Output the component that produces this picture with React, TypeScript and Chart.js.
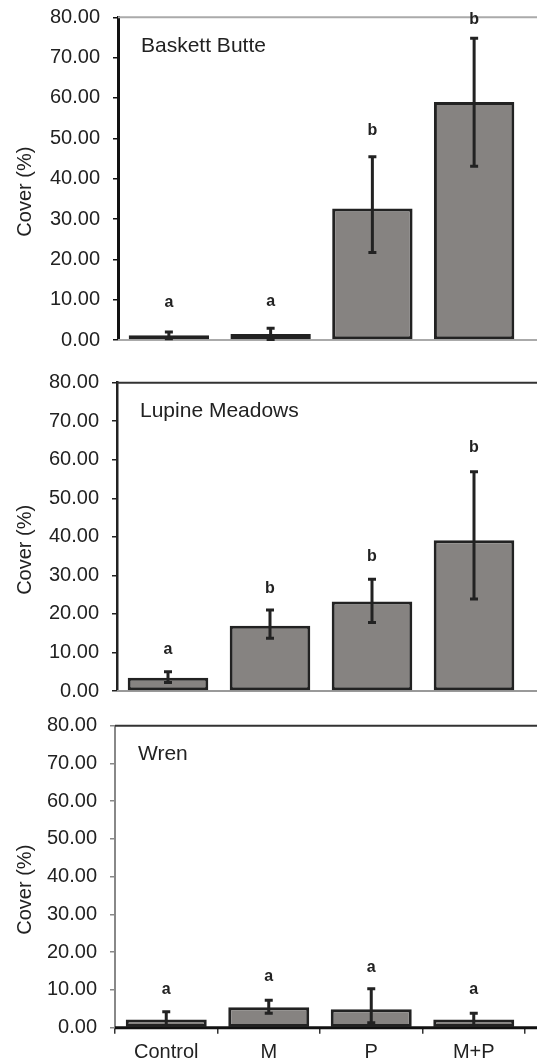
import React, { useEffect, useRef } from "react";
import { Chart, registerables } from "chart.js";

Chart.register(...registerables);

const categories = ["Control", "M", "P", "M+P"];
const yTicks = [0, 10, 20, 30, 40, 50, 60, 70, 80];

const basketMeans = [1.2, 1.5, 32.6, 59.0];
const basketLow = [0.3, 0.1, 21.7, 43.1];
const basketHigh = [2.0, 2.9, 45.4, 74.8];
const basketLetters = ["a", "a", "b", "b"];
const basketLetterY = [9.2, 9.5, 52.0, 79.4];

const lupineMeans = [3.45, 16.9, 23.2, 39.1];
const lupineLow = [2.2, 13.7, 17.8, 23.9];
const lupineHigh = [5.0, 21.0, 29.0, 56.9];
const lupineLetters = ["a", "b", "b", "b"];
const lupineLetterY = [10.8, 26.6, 34.8, 63.2];

const wrenMeans = [2.2, 5.4, 4.9, 2.2];
const wrenLow = [0.5, 3.8, 1.3, 0.6];
const wrenHigh = [4.2, 7.3, 10.3, 3.8];
const wrenLetters = ["a", "a", "a", "a"];
const wrenLetterY = [10.0, 13.5, 15.9, 10.0];

const FONT = "'Liberation Sans', Arial, sans-serif";
const TEXT = "#222";

type PanelCfg = {
  name: string;
  means: number[];
  low: number[];
  high: number[];
  letters: string[];
  letterY: number[];
  top: number;
  height: number;
  padTop: number;
  xHeight: number;
  yWidth: number;
  leftColor: string;
  leftWidth: number;
  topColor: string;
  bottomColor: string;
  bottomWidth: number;
  showX: boolean;
};

const panels: PanelCfg[] = [
  {
    name: "Baskett Butte", means: basketMeans, low: basketLow, high: basketHigh,
    letters: basketLetters, letterY: basketLetterY,
    top: -20, height: 400, padTop: 37.3, xHeight: 40, yWidth: 118,
    leftColor: "#111", leftWidth: 3, topColor: "#aaa", bottomColor: "#aaa", bottomWidth: 2, showX: false,
  },
  {
    name: "Lupine Meadows", means: lupineMeans, low: lupineLow, high: lupineHigh,
    letters: lupineLetters, letterY: lupineLetterY,
    top: 340, height: 390, padTop: 42.7, xHeight: 39, yWidth: 117,
    leftColor: "#222", leftWidth: 2.5, topColor: "#333", bottomColor: "#999", bottomWidth: 2, showX: false,
  },
  {
    name: "Wren", means: wrenMeans, low: wrenLow, high: wrenHigh,
    letters: wrenLetters, letterY: wrenLetterY,
    top: 700, height: 364, padTop: 25.7, xHeight: 36.3, yWidth: 115,
    leftColor: "#888", leftWidth: 2, topColor: "#333", bottomColor: "#111", bottomWidth: 3, showX: true,
  },
];

function Panel({ cfg }: { cfg: PanelCfg }) {
  const ref = useRef<HTMLCanvasElement | null>(null);
  useEffect(() => {
    if (!ref.current) return;
    const decor = {
      id: "decor",
      beforeDatasetsDraw(chart: any) {
        const { ctx, chartArea } = chart;
        const w = chart.width;
        ctx.save();
        ctx.lineCap = "butt";
        ctx.strokeStyle = cfg.topColor;
        ctx.lineWidth = 2;
        ctx.beginPath();
        ctx.moveTo(chartArea.left, chartArea.top);
        ctx.lineTo(w, chartArea.top);
        ctx.stroke();
        ctx.strokeStyle = cfg.bottomColor;
        ctx.lineWidth = cfg.bottomWidth;
        ctx.beginPath();
        ctx.moveTo(chartArea.left, chartArea.bottom);
        ctx.lineTo(w, chartArea.bottom);
        ctx.stroke();
        ctx.restore();
      },
      afterDatasetsDraw(chart: any) {
        const { ctx, chartArea } = chart;
        const ys = chart.scales.y;
        const meta = chart.getDatasetMeta(0);
        ctx.save();
        ctx.strokeStyle = "#222";
        ctx.lineWidth = 3;
        ctx.lineCap = "butt";
        meta.data.forEach((bar: any, i: number) => {
          const x = bar.x;
          const yh = ys.getPixelForValue(cfg.high[i]);
          const yl = ys.getPixelForValue(cfg.low[i]);
          ctx.beginPath();
          ctx.moveTo(x, yh);
          ctx.lineTo(x, yl);
          ctx.moveTo(x - 4, yh);
          ctx.lineTo(x + 4, yh);
          ctx.moveTo(x - 4, yl);
          ctx.lineTo(x + 4, yl);
          ctx.stroke();
          ctx.fillStyle = TEXT;
          ctx.font = `bold 16px ${FONT}`;
          ctx.textAlign = "center";
          ctx.textBaseline = "middle";
          ctx.fillText(cfg.letters[i], x, ys.getPixelForValue(cfg.letterY[i]));
        });
        ctx.fillStyle = TEXT;
        ctx.font = `21px ${FONT}`;
        ctx.textAlign = "left";
        ctx.textBaseline = "middle";
        ctx.fillText(cfg.name, chartArea.left + 23, chartArea.top + 29);
        ctx.font = `20px ${FONT}`;
        ctx.translate(25, (chartArea.top + chartArea.bottom) / 2 + 13);
        ctx.rotate(-Math.PI / 2);
        ctx.textAlign = "center";
        ctx.fillText("Cover (%)", 0, 0);
        ctx.restore();
      },
    };
    const chart = new Chart(ref.current, {
      type: "bar",
      data: {
        labels: categories,
        datasets: [
          {
            data: cfg.means,
            backgroundColor: "#868381",
            borderColor: "#222",
            borderWidth: 3,
            borderSkipped: false,
            barPercentage: 0.79,
            categoryPercentage: 1,
          },
        ],
      },
      options: {
        animation: false,
        responsive: false,
        devicePixelRatio: 1,
        layout: { padding: { top: cfg.padTop, right: 12, left: 0, bottom: 0 } },
        plugins: { legend: { display: false }, tooltip: { enabled: false }, title: { display: false } },
        scales: {
          x: {
            offset: true,
            border: { display: false },
            grid: {
              display: cfg.showX,
              drawOnChartArea: false,
              drawTicks: true,
              tickLength: 6,
              color: "#333",
              lineWidth: 1.5,
              offset: true,
            },
            ticks: {
              display: cfg.showX,
              color: TEXT,
              font: { family: FONT, size: 20 },
              padding: 7,
              maxRotation: 0,
            },
            afterFit(scale: any) {
              scale.height = cfg.xHeight;
            },
          },
          y: {
            min: 0,
            max: 80,
            afterBuildTicks(scale: any) {
              scale.ticks = yTicks.map((v) => ({ value: v }));
            },
            border: { display: true, color: cfg.leftColor, width: cfg.leftWidth },
            grid: {
              display: true,
              drawOnChartArea: false,
              drawTicks: true,
              tickLength: 5,
              color: cfg.leftColor,
              lineWidth: 1.5,
            },
            ticks: {
              color: TEXT,
              font: { family: FONT, size: 20 },
              padding: 13,
              callback: (v: any) => Number(v).toFixed(2),
            },
            afterFit(scale: any) {
              scale.width = cfg.yWidth;
            },
          },
        },
      } as any,
      plugins: [decor],
    });
    return () => chart.destroy();
  }, [cfg]);
  return (
    <div style={{ position: "absolute", left: 0, top: cfg.top, width: 537, height: cfg.height }}>
      <canvas ref={ref} width={537} height={cfg.height} style={{ display: "block", width: 537, height: cfg.height }} />
    </div>
  );
}

export default function App() {
  return (
    <div style={{ position: "absolute", left: 0, top: 0, width: 537, height: 1064, background: "#fff", overflow: "hidden" }}>
      {panels.map((p) => (
        <Panel key={p.name} cfg={p} />
      ))}
    </div>
  );
}
